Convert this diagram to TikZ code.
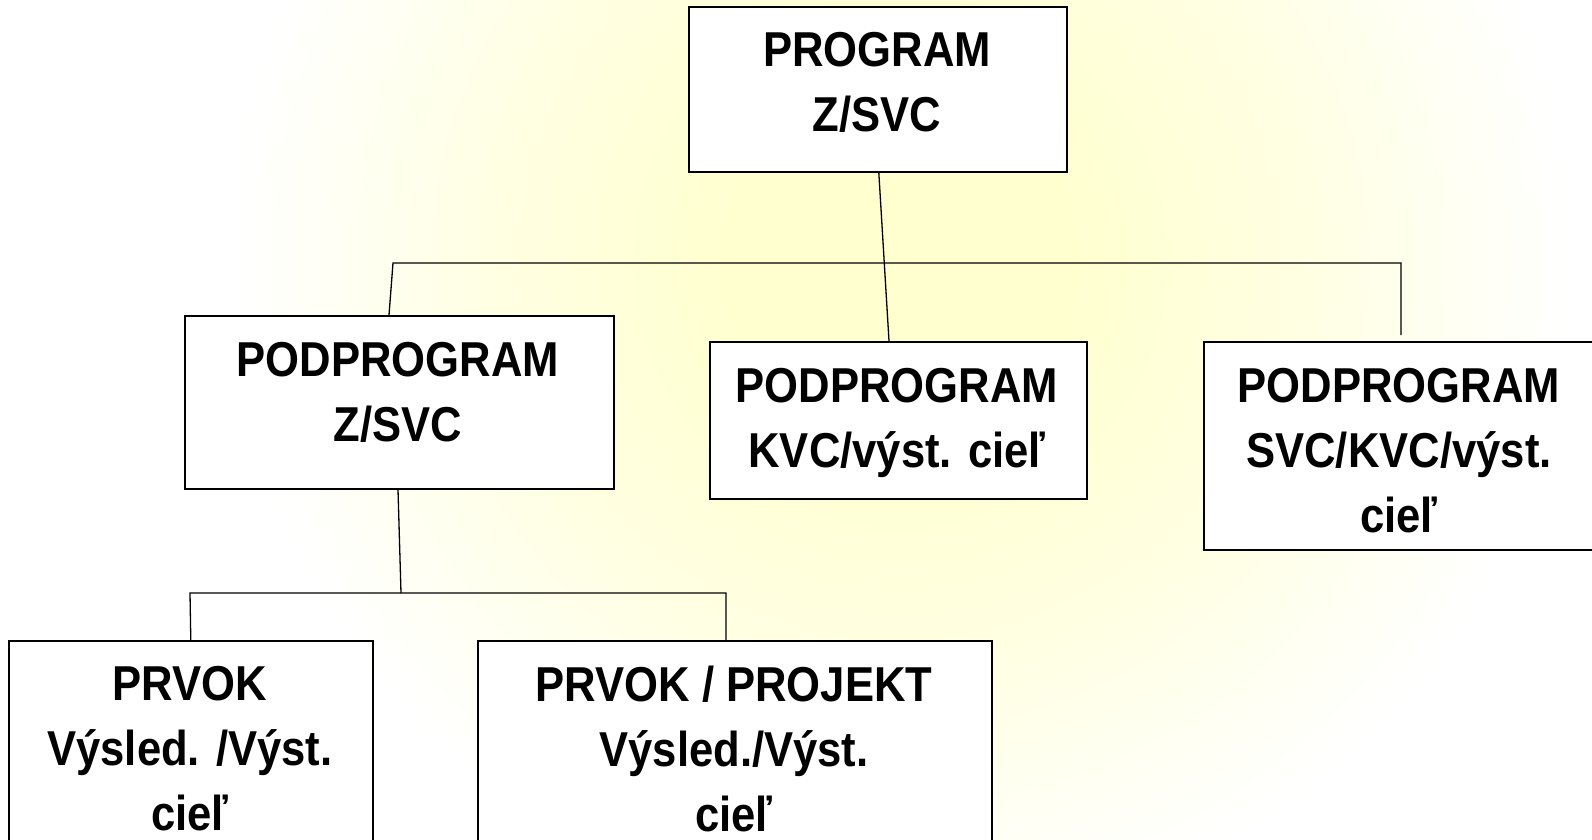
\documentclass[tikz,border=0pt]{standalone}
\usepackage{fontspec}
\newfontfamily\boxfont{Liberation Sans}[FakeStretch=0.89]
\usetikzlibrary{calc}
\definecolor{glowyellow}{RGB}{255,255,208}
\pgfdeclareradialshading{glow}{\pgfpoint{0bp}{0bp}}{color(0bp)=(glowyellow); color(6bp)=(glowyellow); color(14bp)=(glowyellow!60!white); color(23bp)=(white); color(50bp)=(white)}
\tikzset{
  box/.style={draw=black, line width=1.6pt, fill=white, inner sep=0pt, anchor=north west},
  boxtext/.style={align=center, anchor=north, inner sep=0pt, text=black,
    font=\fontsize{49}{65}\selectfont\boxfont\bfseries},
  link/.style={draw=black, line width=1.3pt}
}
\begin{document}
\begin{tikzpicture}[x=1pt, y=-1pt]
\useasboundingbox (0,0) rectangle (1592,839);
\clip (0,0) rectangle (1592,839);
\fill[white] (0,0) rectangle (1592,839);
\begin{pgfscope}
  \pgflowlevel{\pgftransformshift{\pgfpoint{900pt}{-260pt}}}
  \pgflowlevel{\pgftransformscale{29}}
  \pgfuseshading{glow}
\end{pgfscope}

% boxes
\node[box, minimum width=378pt, minimum height=165pt] (top) at (688,6) {};
\node[box, minimum width=429pt, minimum height=173pt] (sub1) at (184,315) {};
\node[box, minimum width=377pt, minimum height=157pt] (sub2) at (709,341) {};
\node[box, minimum width=400pt, minimum height=208pt] (sub3) at (1203,341) {};
\node[box, minimum width=364pt, minimum height=260pt] (el1) at (8,640) {};
\node[box, minimum width=514pt, minimum height=260pt] (el2) at (477,640) {};

% texts
\node[boxtext] (toptxt) at (877,32) {PROGRAM\\Z/SVC};
\node[boxtext] (sub1txt) at (398,342) {PODPROGRAM\\Z/SVC};
\node[boxtext] (sub2txt) at (897,368) {PODPROGRAM\\KVC/výst. cieľ};
\node[boxtext] (sub3txt) at (1399,368) {PODPROGRAM\\SVC/KVC/výst.\\cieľ};
\node[boxtext] (el1txt) at (190,666) {PRVOK\\Výsled. /Výst.\\cieľ};
\node[boxtext] (el2txt) at (734,666) {PRVOK / PROJEKT\\Výsled./Výst.\\cieľ};

% junctions
\coordinate (j1) at (393,263);
\coordinate (j2) at (1401,263);
\coordinate (j2end) at (1401,335);
\coordinate (j3) at (401,593);
\coordinate (j4) at (190,593);
\coordinate (j5) at (726,593);

% connectors
\draw[link] ([xshift=1pt]top.south) -- ([xshift=180pt]sub2.north west);
\draw[link] ([xshift=205pt]sub1.north west) -- (j1) -- (j2) -- (j2end);
\draw[link] ([xshift=214pt]sub1.south west) -- (j3);
\draw[link] (el1.north) -- (j4) -- (j5) -- (j5 |- el2.north);
\end{tikzpicture}
\end{document}
